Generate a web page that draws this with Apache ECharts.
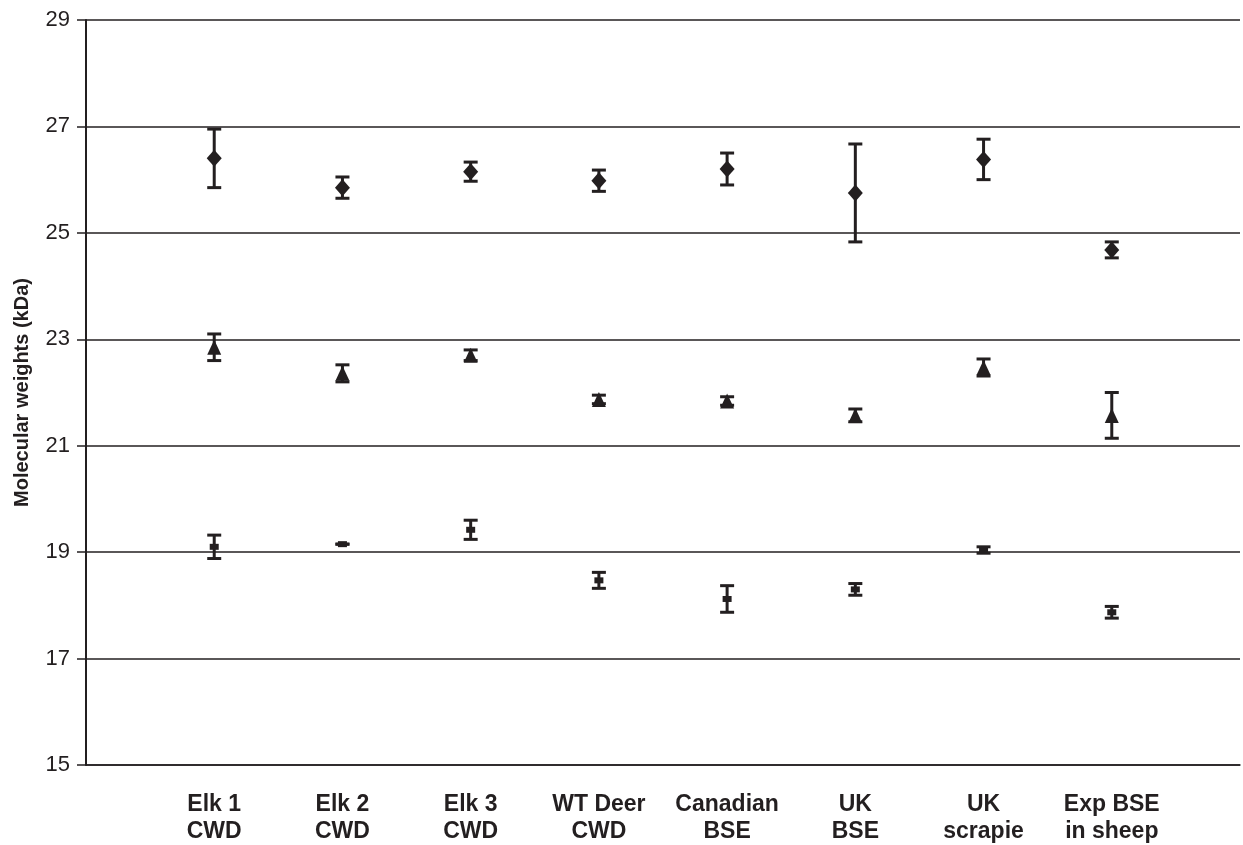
<!DOCTYPE html>
<html>
<head>
<meta charset="utf-8">
<script src="https://cdn.jsdelivr.net/npm/echarts@6/dist/echarts.min.js"></script>
<style>
  html,body{margin:0;padding:0;background:#fff;}
  #chart{width:1243px;height:845px;}
</style>
</head>
<body>
<div id="chart"></div>
<script>
// category labels (blank slots at both ends keep the spacing of the original)
var categories = ['', 'Elk 1\nCWD', 'Elk 2\nCWD', 'Elk 3\nCWD', 'WT Deer\nCWD', 'Canadian\nBSE', 'UK\nBSE', 'UK\nscrapie', 'Exp BSE\nin sheep', ''];
var groups = categories.slice(1, 9);

// upper band (diamonds)
var upperMean = [26.4, 25.85, 26.15, 25.98, 26.2, 25.75, 26.38, 24.68];
var upperErr  = [0.55, 0.2, 0.18, 0.2, 0.3, 0.92, 0.38, 0.15];
// middle band (triangles)
var middleMean = [22.85, 22.36, 22.7, 21.87, 21.84, 21.57, 22.47, 21.57];
var middleErr  = [0.25, 0.16, 0.1, 0.08, 0.08, 0.12, 0.16, 0.43];
// lower band (small squares)
var lowerMean = [19.1, 19.15, 19.42, 18.47, 18.12, 18.3, 19.04, 17.87];
var lowerErr  = [0.22, 0, 0.18, 0.15, 0.25, 0.11, 0.06, 0.11];

var yTicks = {min: 15, max: 29, interval: 2};
var ink = '#231f20';

function pts(mean){
    return mean.map(function(v,i){ return [groups[i], v]; });
}
function bars(mean, err){
    return mean.map(function(v,i){ return [groups[i], v, err[i]]; });
}

function errorBar(params, api){
    var x = api.value(0);
    var m = api.value(1);
    var e = api.value(2);
    var hi = api.coord([x, m + e]);
    var lo = api.coord([x, m - e]);
    var half = 7;
    var st = {stroke: ink, lineWidth: 3};
    return {
        type: 'group',
        children: [
            {type: 'line', shape: {x1: hi[0], y1: hi[1], x2: lo[0], y2: lo[1]}, style: st},
            {type: 'line', shape: {x1: hi[0]-half, y1: hi[1], x2: hi[0]+half, y2: hi[1]}, style: st},
            {type: 'line', shape: {x1: lo[0]-half, y1: lo[1], x2: lo[0]+half, y2: lo[1]}, style: st}
        ]
    };
}

var myChart = echarts.init(document.getElementById('chart'));
var option = {
    animation: false,
    backgroundColor: '#fff',
    grid: {left: 86, top: 20, width: 1161, height: 745, containLabel: false},
    xAxis: {
        type: 'category',
        data: categories,
        boundaryGap: false,
        axisLine: {show: true, lineStyle: {color: ink, width: 1.5}},
        axisTick: {show: false},
        splitLine: {show: false},
        axisLabel: {
            interval: 0,
            margin: 26,
            color: ink,
            fontFamily: 'Liberation Sans, Arial, sans-serif',
            fontWeight: 'bold',
            fontSize: 23,
            lineHeight: 27
        }
    },
    yAxis: {
        type: 'value',
        min: yTicks.min,
        max: yTicks.max,
        interval: yTicks.interval,
        name: 'Molecular weights (kDa)',
        nameLocation: 'middle',
        nameGap: 54,
        nameTextStyle: {
            color: ink,
            fontFamily: 'Liberation Sans, Arial, sans-serif',
            fontWeight: 'bold',
            fontSize: 20
        },
        axisLine: {show: true, lineStyle: {color: ink, width: 2}},
        axisTick: {show: true, length: 9, lineStyle: {color: ink, width: 1.5}},
        splitLine: {show: true, lineStyle: {color: ink, width: 1.5}},
        axisLabel: {
            margin: 16,
            color: ink,
            fontFamily: 'Liberation Sans, Arial, sans-serif',
            fontSize: 22
        }
    },
    series: [
        {type: 'custom', renderItem: errorBar, data: bars(upperMean, upperErr), z: 3},
        {type: 'custom', renderItem: errorBar, data: bars(middleMean, middleErr), z: 3},
        {type: 'custom', renderItem: errorBar, data: bars(lowerMean, lowerErr), z: 3},
        {type: 'scatter', data: pts(upperMean), symbol: 'diamond', symbolSize: [15, 17],
         itemStyle: {color: ink, opacity: 1}, z: 4},
        {type: 'scatter', data: pts(middleMean), symbol: 'triangle', symbolSize: [14, 15],
         itemStyle: {color: ink, opacity: 1}, z: 4},
        {type: 'scatter', data: pts(lowerMean), symbol: 'rect', symbolSize: [9, 6],
         itemStyle: {color: ink, opacity: 1}, z: 4}
    ]
};
myChart.setOption(option);
window.addEventListener('resize', function(){
    myChart.resize();
});
</script>
</body>
</html>
